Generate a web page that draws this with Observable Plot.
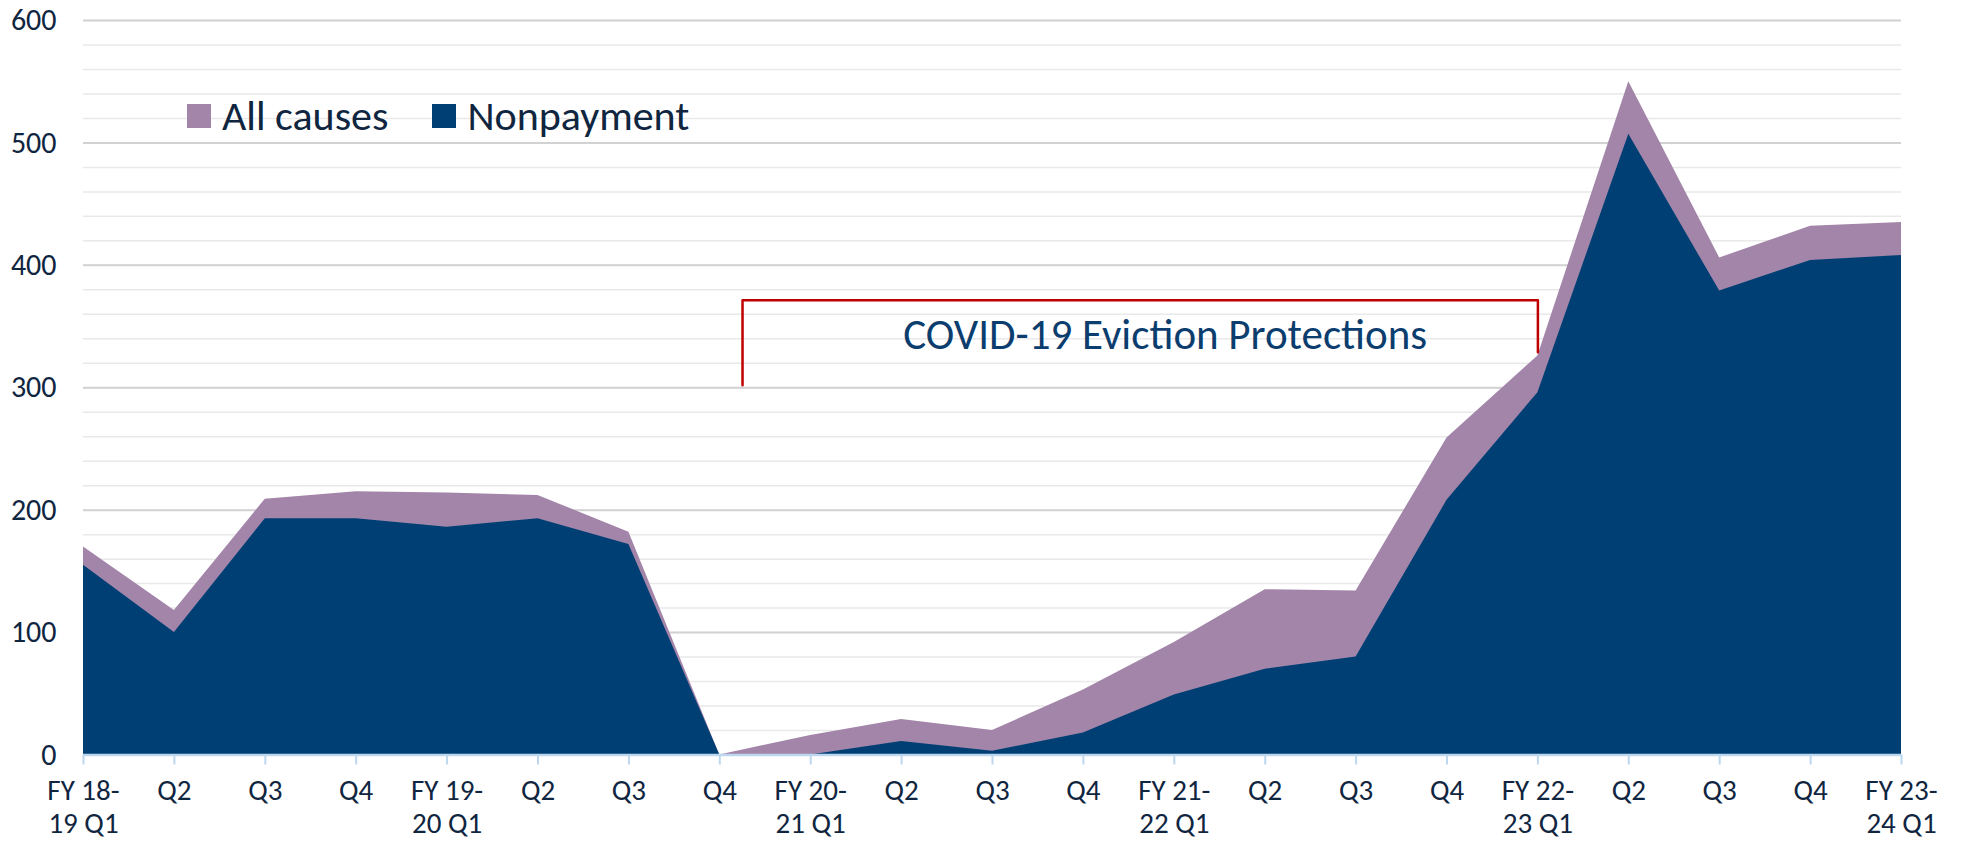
<!DOCTYPE html>
<html>
<head>
<meta charset="utf-8">
<script src="https://cdn.jsdelivr.net/npm/d3@7"></script>
<script src="https://cdn.jsdelivr.net/npm/@observablehq/plot@0.6"></script>
<style>
  html, body { margin: 0; padding: 0; background: #fff; }
  #wrap { position: relative; width: 1962px; height: 845px; font-family: Carlito, Lato, "Open Sans", sans-serif; }
  #legend { position: absolute; left: 187px; top: 90px; display: flex; align-items: center; font-size: 42px; color: #0f2540; }
  #legend .item { display: flex; align-items: center; margin-right: 44px; }
  #legend .sw { width: 24px; height: 24px; margin-right: 11px; }
</style>
</head>
<body>
<div id="wrap">
  <div id="chart"></div>
  <div id="legend"></div>
</div>
<script>
const categories = ["FY 18-\n19 Q1","Q2","Q3","Q4","FY 19-\n20 Q1","Q2","Q3","Q4","FY 20-\n21 Q1","Q2","Q3","Q4","FY 21-\n22 Q1","Q2","Q3","Q4","FY 22-\n23 Q1","Q2","Q3","Q4","FY 23-\n24 Q1"];
const allCauses  = [170, 118, 209, 215, 214, 212, 182, 0, 16, 29, 20, 53, 92, 135, 134, 259, 326, 550, 406, 432, 435];
const nonpayment = [155, 100, 193, 193, 186, 193, 172, 0, 0, 11, 3, 18, 49, 70, 80, 208, 296, 507, 379, 404, 408];
const seriesNames = ["All causes", "Nonpayment"];
const seriesColors = ["#A285A9", "#003F73"];
const majorTicks = [0, 100, 200, 300, 400, 500, 600];
const minorTicks = d3.range(0, 601, 20);
// Annotation bracket (category index, value)
const bracketX = [7.25, 7.25, 16, 16];
const bracketY = [302, 371.5, 371.5, 329];
const annotationText = "COVID-19 Eviction Protections";
const annotationPos = {x: 11.9, y: 331.5};

const idx = categories.map((_, i) => i);
const table = idx.map(i => ({i, all: allCauses[i], non: nonpayment[i]}));
const bracket = bracketX.map((x, k) => ({x, y: bracketY[k]}));
const font = "Carlito, Lato, 'Open Sans', sans-serif";

const chart = Plot.plot({
  width: 1962,
  height: 845,
  marginLeft: 83,
  marginRight: 61,
  marginTop: 20,
  marginBottom: 90.5,
  style: {fontFamily: font, background: "#fff", color: "#13243a"},
  x: {type: "linear", domain: [0, categories.length - 1]},
  y: {domain: [0, 600]},
  marks: [
    Plot.ruleY(minorTicks, {stroke: "#e9e9e9", strokeWidth: 1.5}),
    Plot.ruleY(majorTicks, {stroke: "#d2d2d2", strokeWidth: 2}),
    Plot.areaY(table, {x: "i", y: "all", fill: seriesColors[0]}),
    Plot.areaY(table, {x: "i", y: "non", fill: seriesColors[1]}),
    Plot.ruleY([0], {stroke: "#BDD7EE", strokeWidth: 2.5}),
    Plot.axisX({ticks: idx, tickFormat: i => categories[i], tickSize: 10, tickPadding: 12,
      stroke: "#BDD7EE", strokeWidth: 2, fontSize: 29, lineHeight: 1.12, fill: "#102540"}),
    Plot.axisY({ticks: majorTicks, tickSize: 0, tickPadding: 27, fontSize: 30, fill: "#102540"}),
    Plot.line(bracket, {x: "x", y: "y", stroke: "#C00000", strokeWidth: 2.5, curve: "linear"}),
    Plot.text([annotationText], {x: annotationPos.x, y: annotationPos.y, text: d => d, fontSize: 43,
      fill: "#0B3D6E", textAnchor: "middle", lineAnchor: "bottom"})
  ]
});
document.getElementById("chart").appendChild(chart);

const legend = document.getElementById("legend");
seriesNames.forEach((name, k) => {
  const item = document.createElement("div");
  item.className = "item";
  const sw = document.createElement("div");
  sw.className = "sw";
  sw.style.background = seriesColors[k];
  const label = document.createElement("span");
  label.textContent = name;
  item.appendChild(sw);
  item.appendChild(label);
  legend.appendChild(item);
});
</script>
</body>
</html>
